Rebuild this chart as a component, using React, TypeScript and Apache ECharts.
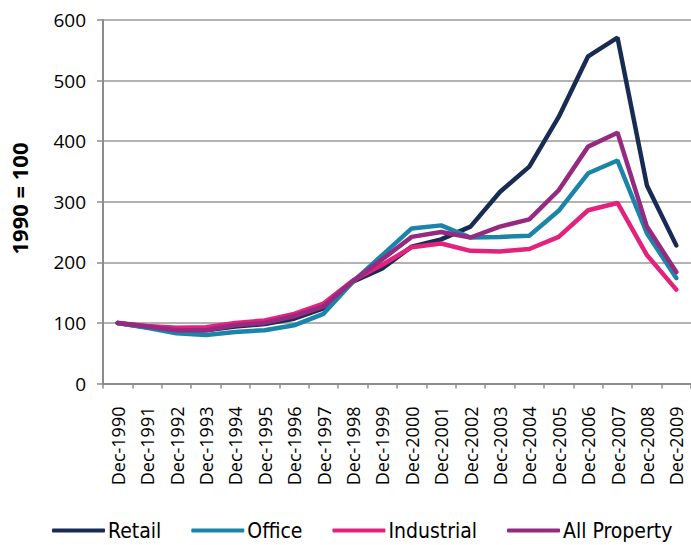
import React, { useEffect, useRef } from "react";
import * as echarts from "echarts";

const categories = [
  "Dec-1990", "Dec-1991", "Dec-1992", "Dec-1993", "Dec-1994", "Dec-1995", "Dec-1996",
  "Dec-1997", "Dec-1998", "Dec-1999", "Dec-2000", "Dec-2001", "Dec-2002", "Dec-2003",
  "Dec-2004", "Dec-2005", "Dec-2006", "Dec-2007", "Dec-2008", "Dec-2009",
];
const retail = [100, 93, 86, 88, 94, 98, 107, 124, 168, 190, 226, 238, 259, 316, 358, 440, 540, 571, 327, 228];
const office = [100, 92, 83, 80, 85, 88, 96, 115, 168, 212, 256, 261, 241, 242, 244, 285, 347, 368, 248, 174];
const industrial = [100, 95, 92, 93, 100, 104, 115, 132, 170, 196, 225, 231, 219, 218, 222, 242, 286, 298, 212, 155];
const allProperty = [100, 94, 88, 88, 96, 100, 111, 127, 169, 205, 242, 250, 241, 259, 271, 319, 391, 414, 259, 184];
const yAxisTitle = "1990 = 100";

const seriesDefs = [
  { name: "Retail", data: retail, color: "#172b53" },
  { name: "Office", data: office, color: "#1a85a9" },
  { name: "Industrial", data: industrial, color: "#e2227c" },
  { name: "All Property", data: allProperty, color: "#952a80" },
];

const GRAY = "#8c8c8c";

export default function App() {
  const ref = useRef<HTMLDivElement>(null);
  useEffect(() => {
    if (!ref.current) return;
    const chart = echarts.init(ref.current, null, { renderer: "svg" });
    chart.setOption({
      animation: false,
      backgroundColor: "#ffffff",
      grid: { left: 103, top: 20, width: 594, height: 363.5, containLabel: false },
      xAxis: {
        type: "category",
        data: categories,
        boundaryGap: true,
        axisLine: { show: true, lineStyle: { color: GRAY, width: 2 } },
        axisTick: { show: true, length: 5, lineStyle: { color: GRAY, width: 1.5 } },
        axisLabel: {
          rotate: 90,
          interval: 0,
          margin: 23,
          color: "#000",
          fontFamily: "'Open Sans', sans-serif",
          fontSize: 18,
        },
      },
      yAxis: {
        type: "value",
        min: 0,
        max: 600,
        interval: 100,
        axisLine: { show: true, lineStyle: { color: GRAY, width: 2 } },
        axisTick: { show: true, length: 6, lineStyle: { color: GRAY, width: 1.5 } },
        splitLine: { show: true, lineStyle: { color: "#999999", width: 1.5 } },
        axisLabel: {
          margin: 17,
          color: "#000",
          fontFamily: "'Open Sans', sans-serif",
          fontSize: 19,
        },
      },
      legend: {
        top: 515,
        left: 47,
        icon: "roundRect",
        itemWidth: 53,
        itemHeight: 4,
        itemGap: 30,
        textStyle: {
          color: "#000",
          fontFamily: "'DejaVu Sans Condensed', 'Liberation Sans Narrow', sans-serif",
          fontSize: 21,
          padding: [0, 0, 0, -2],
        },
        data: seriesDefs.map((s) => s.name),
      },
      graphic: [
        {
          type: "text",
          x: 19,
          y: 198.5,
          rotation: Math.PI / 2,
          style: {
            text: yAxisTitle,
            fontFamily: "'Open Sans', sans-serif",
            fontWeight: "bold",
            fontSize: 22,
            fill: "#000",
            align: "center",
            verticalAlign: "middle",
          },
        },
      ],
      series: seriesDefs.map((s) => ({
        name: s.name,
        type: "line",
        data: s.data,
        symbol: "none",
        showSymbol: false,
        color: s.color,
        lineStyle: { color: s.color, width: 4.5, cap: "round" },
      })),
    });
    return () => chart.dispose();
  }, []);
  return (
    <div
      ref={ref}
      style={{ position: "fixed", left: 0, top: 0, width: 691, height: 545, background: "#fff" }}
    />
  );
}
